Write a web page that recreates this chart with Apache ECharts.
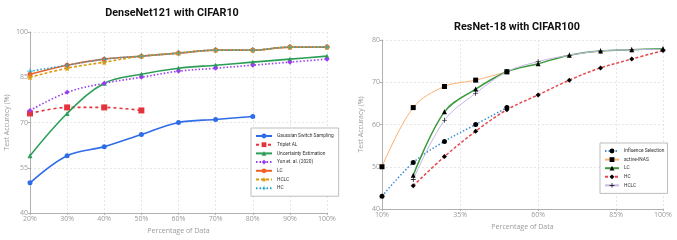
<!DOCTYPE html>
<html><head><meta charset="utf-8">
<script src="https://cdn.jsdelivr.net/npm/echarts@6/dist/echarts.min.js"></script>
<style>html,body{margin:0;padding:0;background:#fff}#c{width:677px;height:240px}</style>
</head><body><div id="c"></div>
<script>
// ---- Left chart: DenseNet121 with CIFAR10 ----
const leftX = [20, 30, 40, 50, 60, 70, 80, 90, 100];
const gaussian = [50, 59, 62, 66, 70, 71, 72];
const tripletAL = [73, 75, 75, 74];
const uncertainty = [59, 73, 83, 86, 88, 89, 90, 91, 92];
const yun2020 = [74, 80, 83, 85, 87, 88, 89, 90, 91];
const leftLC = [86, 89, 91, 92, 93, 94, 94, 95, 95];
const leftHCLC = [85, 88, 90, 92, 93, 94, 94, 95, 95];
const leftHC = [87, 89, 91, 92, 93, 94, 94, 95, 95];
const leftYTicks = [40, 55, 70, 85, 100];

// ---- Right chart: ResNet-18 with CIFAR100 ----
const rightX = [10, 20, 30, 40, 50, 60, 70, 80, 90, 100];
const influence = [43, 51, 56, 60, 64];              // 10..50
const activeINAS = [50, 64, 69, 70.5, 72.5];          // 10..50
const rightLC = [48, 63, 68.4, 72.5, 74.4, 76.4, 77.4, 77.7, 77.9]; // 20..100
const rightHC = [45.5, 52.4, 58.4, 63.5, 67, 70.5, 73.4, 75.5, 77.5]; // 20..100
const rightHCLC = [47, 61, 67.4, 72.5, 74.9, 76.4, 77.4, 77.7, 77.8]; // 20..100
const rightXTicks = [10, 35, 60, 85, 100];

const LY0 = 40;  // left y offset so ticks start at a multiple of interval
const RX0 = 10;  // right x offset

const star = 'path://M0,-10 L2.9,-4 9.5,-3.1 4.8,1.5 5.9,8.1 0,5 -5.9,8.1 -4.8,1.5 -9.5,-3.1 -2.9,-4 Z';
const cross = 'path://M-1.3,-10 L1.3,-10 L1.3,-1.3 L10,-1.3 L10,1.3 L1.3,1.3 L1.3,10 L-1.3,10 L-1.3,1.3 L-10,1.3 L-10,-1.3 L-1.3,-1.3 Z';

function pairsL(vals, xs) { return vals.map((v, i) => [xs[i], v - LY0]); }
function pairsR(vals, xs) { return vals.map((v, i) => [xs[i] - RX0, v]); }

const axisGray = '#b0b0b0';
const labelGray = '#9a9a9a';
const fontFam = '"Open Sans", "Noto Sans", sans-serif';
const legFont = 'Roboto, "Noto Sans", sans-serif';

function lseries(name, data, color, type, symbol, size) {
  return {
    name, type: 'line', xAxisIndex: 0, yAxisIndex: 0, data: pairsL(data, leftX),
    smooth: 0.35, symbol, symbolSize: size, showSymbol: true,
    lineStyle: { color, width: 1.6, type }, itemStyle: { color }
  };
}
function rseries(name, data, xs, color, width, type, symbol, size) {
  return {
    name, type: 'line', xAxisIndex: 1, yAxisIndex: 1, data: pairsR(data, xs),
    smooth: 0.35, symbol, symbolSize: size, showSymbol: true,
    lineStyle: { color, width, type }, itemStyle: { color: '#000' }
  };
}

const chart = echarts.init(document.getElementById('c'), null, { renderer: 'canvas' });
const splitL = { show: true, lineStyle: { color: '#e6e6e6', type: [2, 2], width: 1 } };

chart.setOption({
  animation: false,
  backgroundColor: '#fff',
  textStyle: { fontFamily: fontFam },
  title: [
    { text: 'DenseNet121 with CIFAR10', left: 167, top: 3, textAlign: 'center',
      textStyle: { fontSize: 10.8, fontWeight: 'bold', color: '#111', fontFamily: legFont } },
    { text: 'ResNet-18 with CIFAR100', left: 512, top: 17, textAlign: 'center',
      textStyle: { fontSize: 10.8, fontWeight: 'bold', color: '#111', fontFamily: legFont } }
  ],
  grid: [
    { left: 30, right: 350, top: 32, bottom: 27, containLabel: false },
    { left: 382, right: 14, top: 40, bottom: 31, containLabel: false }
  ],
  xAxis: [
    { gridIndex: 0, type: 'value', min: 20, max: 100, interval: 10,
      name: 'Percentage of Data', nameLocation: 'middle', nameGap: 14,
      nameTextStyle: { fontSize: 7, color: labelGray },
      axisLine: { lineStyle: { color: axisGray } },
      axisTick: { show: true, length: 2, lineStyle: { color: axisGray } },
      axisLabel: { fontSize: 7, color: labelGray, margin: 2, formatter: v => v + '%' },
      splitLine: splitL },
    { gridIndex: 1, type: 'value', min: 0, max: 90, interval: 25,
      name: 'Percentage of Data', nameLocation: 'middle', nameGap: 14,
      nameTextStyle: { fontSize: 7, color: labelGray },
      axisLine: { lineStyle: { color: axisGray } },
      axisTick: { show: true, length: 2, lineStyle: { color: axisGray } },
      axisLabel: { fontSize: 7, color: labelGray, margin: 2, showMaxLabel: true,
        formatter: v => (v + RX0) + '%' },
      splitLine: splitL }
  ],
  yAxis: [
    { gridIndex: 0, type: 'value', min: 0, max: 60, interval: 15,
      name: 'Test Accuracy (%)', nameLocation: 'middle', nameGap: 20,
      nameTextStyle: { fontSize: 7, color: labelGray },
      axisLine: { show: true, lineStyle: { color: axisGray } },
      axisTick: { show: true, length: 2, lineStyle: { color: axisGray } },
      axisLabel: { fontSize: 7, color: labelGray, margin: 2, formatter: v => (v + LY0) },
      splitLine: splitL },
    { gridIndex: 1, type: 'value', min: 40, max: 80, interval: 10,
      name: 'Test Accuracy (%)', nameLocation: 'middle', nameGap: 18,
      nameTextStyle: { fontSize: 7, color: labelGray },
      axisLine: { show: true, lineStyle: { color: axisGray } },
      axisTick: { show: true, length: 2, lineStyle: { color: axisGray } },
      axisLabel: { fontSize: 7, color: labelGray, margin: 2 },
      splitLine: splitL }
  ],
  legend: [
    { orient: 'vertical', left: 251, top: 128, padding: [5, 5, 5, 4],
      backgroundColor: '#fff', borderColor: '#bdbdbd', borderWidth: 1, borderRadius: 0,
      itemWidth: 16, itemHeight: 6, itemGap: 2.7,
      textStyle: { fontSize: 4.8, lineHeight: 6, color: '#333', fontFamily: legFont },
      data: ['Gaussian Switch Sampling', 'Triplet AL', 'Uncertainty Estimation', 'Yun et. al. (2020)', 'LC ', 'HCLC ', 'HC '] },
    { orient: 'vertical', left: 600, top: 143, padding: [5, 3, 5, 4],
      backgroundColor: '#fff', borderColor: '#bdbdbd', borderWidth: 1, borderRadius: 0,
      itemWidth: 14, itemHeight: 6, itemGap: 2.6,
      textStyle: { fontSize: 4.8, lineHeight: 6, color: '#333', fontFamily: legFont },
      data: ['Influence Selection', 'active-INAS', 'LC', 'HC', 'HCLC'] }
  ],
  series: [
    lseries('Gaussian Switch Sampling', gaussian, '#2f6de8', 'solid', 'circle', 5),
    lseries('Triplet AL', tripletAL, '#e6333b', [3, 3], 'rect', 6),
    lseries('Uncertainty Estimation', uncertainty, '#2b9d57', 'solid', 'triangle', 5),
    lseries('Yun et. al. (2020)', yun2020, '#9b3cf0', [1.5, 2], 'diamond', 5),
    lseries('LC ', leftLC, '#ef5f28', 'solid', 'circle', 5),
    lseries('HCLC ', leftHCLC, '#dc9a12', [3, 2], star, 6),
    lseries('HC ', leftHC, '#25a3c8', [1.5, 2], cross, 6),

    rseries('Influence Selection', influence, rightX.slice(0, 5), '#3d8fd8', 1.5, [1.5, 2], 'circle', 5),
    rseries('active-INAS', activeINAS, rightX.slice(0, 5), '#fdb06c', 1, 'solid', 'rect', 5),
    rseries('LC', rightLC, rightX.slice(1), '#3a9a3a', 1.5, 'solid', 'triangle', 5),
    rseries('HC', rightHC, rightX.slice(1), '#e8474a', 1.5, [3, 2], 'diamond', 5),
    rseries('HCLC', rightHCLC, rightX.slice(1), '#c6b6e6', 1, 'solid', cross, 5)
  ]
});
</script></body></html>
